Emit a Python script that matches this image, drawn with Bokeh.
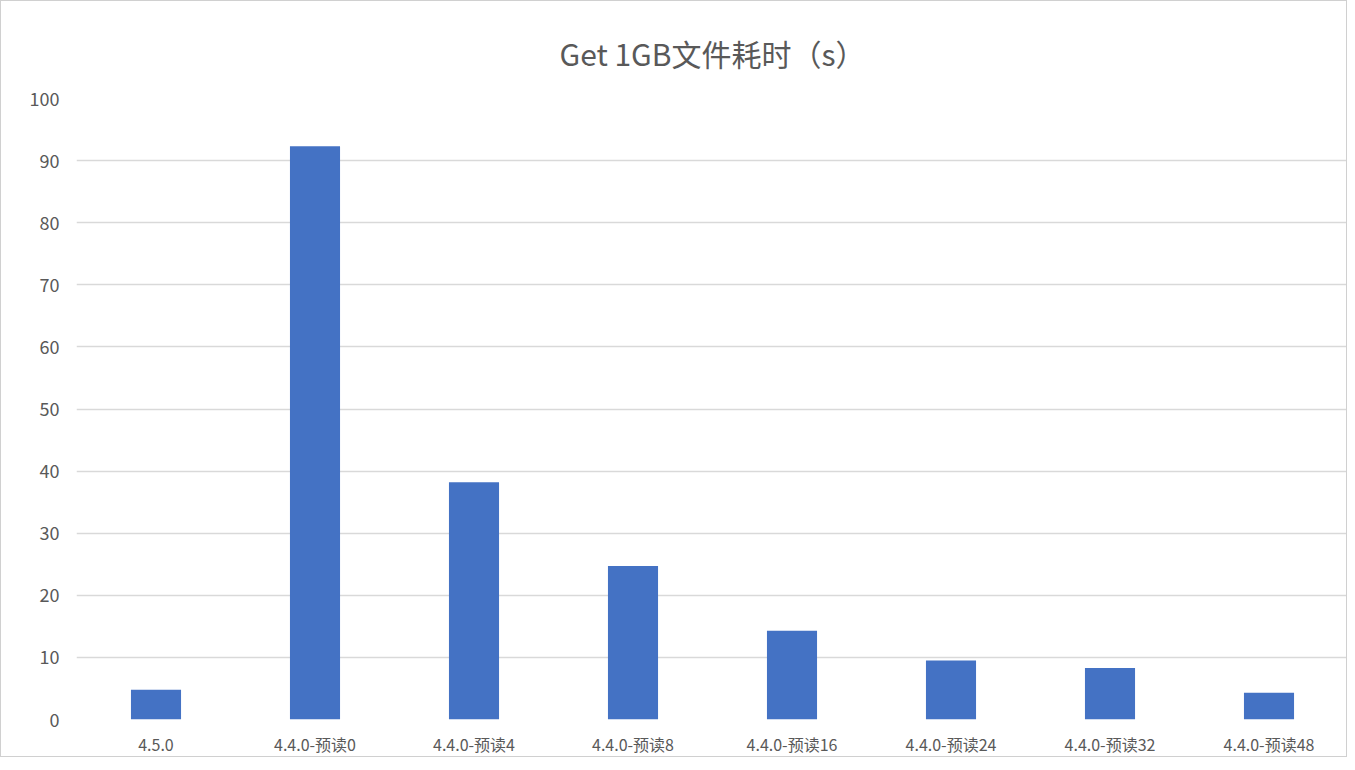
from bokeh.plotting import figure
from bokeh.models import ColumnDataSource, Range1d, FactorRange, FixedTicker
from bokeh.embed import file_html
from bokeh.resources import INLINE

categories = ["4.5.0", "4.4.0-预读0", "4.4.0-预读4", "4.4.0-预读8",
              "4.4.0-预读16", "4.4.0-预读24", "4.4.0-预读32", "4.4.0-预读48"]
values = [4.8, 92.3, 38.2, 24.7, 14.3, 9.5, 8.3, 4.3]
y_ticks = [0, 10, 20, 30, 40, 50, 60, 70, 80, 90, 100]
title_text = "Get 1GB文件耗时（s）"

FONT = "Noto Sans CJK SC"
GREY = "#595959"

src = ColumnDataSource(data=dict(cat=categories, val=values))

p = figure(x_range=FactorRange(*categories, range_padding=0), y_range=Range1d(0, 100),
           width=1347, height=757, output_backend="svg", toolbar_location=None,
           min_border_left=75, min_border_right=0, min_border_top=97, min_border_bottom=36)
p.styles = {"border": "1px solid #d0d0d0"}

p.vbar(x="cat", top="val", width=0.315, source=src, color="#4472C4", line_color=None)

p.title.text = title_text
p.title.align = "center"
p.title.text_font = FONT
p.title.text_font_size = "30px"
p.title.text_font_style = "normal"
p.title.text_color = GREY
p.title.text_line_height = 0.9
p.title.standoff = 47

p.outline_line_color = None
p.xgrid.grid_line_color = None
p.ygrid.grid_line_color = "#d9d9d9"
p.ygrid.grid_line_width = 1.5

p.yaxis.ticker = FixedTicker(ticks=y_ticks)
for ax in (p.xaxis, p.yaxis):
    ax.axis_line_color = None
    ax.major_tick_line_color = None
    ax.minor_tick_line_color = None
    ax.major_label_text_font = FONT
    ax.major_label_text_color = GREY
p.yaxis.major_label_text_font_size = "18px"
p.xaxis.major_label_text_font_size = "16px"
p.yaxis.major_label_standoff = 11
p.xaxis.major_label_standoff = 6

open("out.html", "w").write(file_html(p, INLINE))
